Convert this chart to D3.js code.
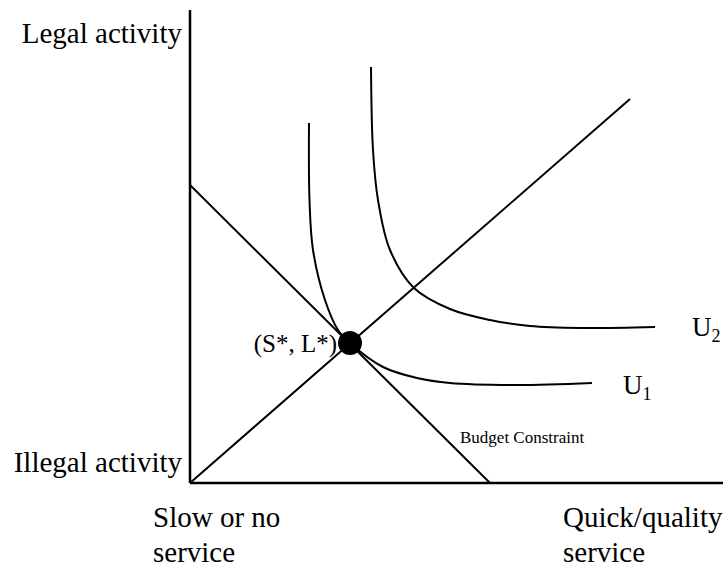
<!DOCTYPE html>
<html>
<head>
<meta charset="utf-8">
<script src="https://cdn.jsdelivr.net/npm/d3@7"></script>
<style>
  body { margin: 0; background: #fff; }
  text { font-family: "Liberation Serif", "Times New Roman", serif; fill: #000; }
</style>
</head>
<body>
<div id="chart"></div>
<script>
// Data (in abstract units: x = service quality, y = legality)
const budgetLine = [[0, 59.6], [60, 0]];
const rayLine = [[0, 0], [88, 76.8]];
const u1 = [[23.8, 72], [23.9, 56.6], [24.6, 46.6], [27, 36.6], [29.6, 30.6], [32, 28],
            [38.6, 23.2], [45.4, 21], [52, 20], [65.4, 19.6], [80.4, 20]];
const u2 = [[36.2, 83.2], [36.6, 66.6], [37.6, 56.6], [40, 46.6], [44.8, 39], [52, 34.8],
            [60, 32.6], [68, 31.4], [78, 31], [93, 31.2]];
const optimum = [32, 28];
const yLabels = ["Legal activity", "Illegal activity"];
const xLabels = [["Slow or no", "service"], ["Quick/quality", "service"]];

const width = 723, height = 571;

const svg = d3.select("#chart").append("svg")
    .attr("width", width)
    .attr("height", height);

// Scales: 5 px per unit on both axes
const x = d3.scaleLinear().domain([0, 100]).range([190, 690]);
const y = d3.scaleLinear().domain([0, 100]).range([483, -17]);

const line = d3.line().x(d => x(d[0])).y(d => y(d[1]));
const curve = d3.line().x(d => x(d[0])).y(d => y(d[1])).curve(d3.curveCatmullRom.alpha(0.5));

// Axes
svg.append("line")
    .attr("x1", x(0)).attr("y1", y(0)).attr("x2", x(0)).attr("y2", y(94.6))
    .attr("stroke", "#000").attr("stroke-width", 2.5);
svg.append("line")
    .attr("x1", x(0)).attr("y1", y(0)).attr("x2", x(106.6)).attr("y2", y(0))
    .attr("stroke", "#000").attr("stroke-width", 2.5);

// Budget constraint and ray
[budgetLine, rayLine].forEach(d => {
    svg.append("path").datum(d)
        .attr("d", line)
        .attr("fill", "none").attr("stroke", "#000").attr("stroke-width", 2);
});

// Indifference curves
[u1, u2].forEach(d => {
    svg.append("path").datum(d)
        .attr("d", curve)
        .attr("fill", "none").attr("stroke", "#000").attr("stroke-width", 2);
});

// Optimum point
svg.append("circle")
    .attr("cx", x(optimum[0])).attr("cy", y(optimum[1]))
    .attr("r", 12).attr("fill", "#000");

svg.append("text")
    .attr("x", x(optimum[0]) - 13).attr("y", y(optimum[1]) + 9)
    .attr("text-anchor", "end")
    .style("font-size", "25px")
    .text("(S*, L*)");

// Curve labels
const uLabel = (px, py, sub) => {
    const t = svg.append("text").attr("x", px).attr("y", py).style("font-size", "27px");
    t.append("tspan").text("U");
    t.append("tspan").attr("dy", 6).style("font-size", "18px").text(sub);
};
uLabel(x(u2[u2.length - 1][0]) + 37, y(u2[u2.length - 1][1]) + 9, "2");
uLabel(x(u1[u1.length - 1][0]) + 31, y(u1[u1.length - 1][1]) + 11, "1");

svg.append("text")
    .attr("x", 460).attr("y", 443)
    .style("font-size", "17px")
    .text("Budget Constraint");

// Axis labels
svg.append("text").attr("x", 182).attr("y", 43)
    .attr("text-anchor", "end").style("font-size", "29px").text(yLabels[0]);
svg.append("text").attr("x", 182).attr("y", 472)
    .attr("text-anchor", "end").style("font-size", "29px").text(yLabels[1]);

[[153, xLabels[0]], [563, xLabels[1]]].forEach(([px, lines]) => {
    lines.forEach((s, i) => {
        svg.append("text").attr("x", px).attr("y", 527 + i * 35)
            .style("font-size", "29px").text(s);
    });
});
</script>
</body>
</html>
